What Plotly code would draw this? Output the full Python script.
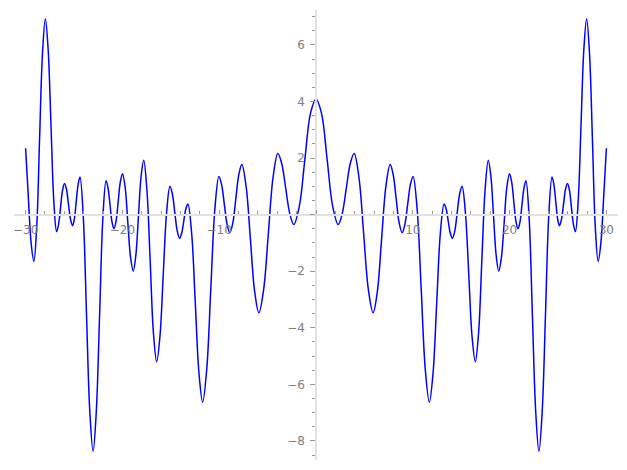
import plotly.graph_objects as go

# Curve samples (right half, x >= 0); the curve is mirror-symmetric about x = 0
x_right = [0.00, 0.57, 1.15, 1.72, 2.29, 2.70, 3.12, 3.53, 3.94, 4.43, 4.92, 5.41, 5.90,
           6.34, 6.78, 7.22, 7.66, 7.97, 8.28, 8.59, 8.90, 9.18, 9.47, 9.75, 10.03,
           10.45, 10.87, 11.29, 11.71, 12.09, 12.47, 12.85, 13.23, 13.45, 13.66, 13.88, 14.09,
           14.34, 14.59, 14.84, 15.09, 15.43, 15.78, 16.12, 16.46, 16.80, 17.13, 17.47, 17.80,
           18.07, 18.34, 18.61, 18.88, 19.16, 19.44, 19.71, 19.99, 20.21, 20.43, 20.65, 20.87,
           21.08, 21.28, 21.49, 21.69, 22.03, 22.36, 22.70, 23.03, 23.37, 23.71, 24.04, 24.38,
           24.57, 24.77, 24.96, 25.15, 25.36, 25.57, 25.77, 25.98, 26.19, 26.39, 26.60, 26.80,
           27.09, 27.38, 27.67, 27.96, 28.26, 28.56, 28.85, 29.15, 29.44, 29.73, 30.00]
y_right = [4.09, 3.58, 1.95, 0.30, -0.35, 0.02, 0.91, 1.79, 2.16, 1.34, -0.66, -2.65, -3.47,
           -2.71, -0.85, 1.00, 1.77, 1.42, 0.57, -0.29, -0.64, -0.35, 0.36, 1.06, 1.35,
           0.19, -2.64, -5.47, -6.63, -5.61, -3.13, -0.64, 0.38, 0.20, -0.23, -0.66, -0.84,
           -0.57, 0.08, 0.73, 1.00, 0.10, -2.10, -4.30, -5.20, -4.16, -1.64, 0.88, 1.92,
           1.35, -0.04, -1.43, -2.00, -1.50, -0.28, 0.95, 1.45, 1.17, 0.48, -0.22, -0.50,
           -0.25, 0.35, 0.95, 1.20, -0.20, -3.59, -6.97, -8.37, -6.95, -3.52, -0.09, 1.33,
           1.08, 0.47, -0.14, -0.39, -0.17, 0.36, 0.88, 1.10, 0.85, 0.25, -0.35, -0.60,
           0.50, 3.17, 5.83, 6.93, 5.68, 2.64, -0.41, -1.66, -0.97, 0.69, 2.35]

x_ticks = [-30, -20, -10, 0, 10, 20, 30]
x_tick_text = ["\u221230", "\u221220", "\u221210", "", "10", "20", "30"]
y_ticks = [-8, -6, -4, -2, 0, 2, 4, 6]
y_tick_text = ["\u22128", "\u22126", "\u22124", "\u22122", "", "2", "4", "6"]

x_full = [-v for v in reversed(x_right[1:])] + x_right
y_full = list(reversed(y_right[1:])) + y_right

x_range = [-31.2, 31.2]
y_range = [-8.676, 7.236]

fig = go.Figure()
fig.add_trace(go.Scatter(
    x=x_full, y=y_full, mode="lines",
    line=dict(color="#0000ff", width=1.5, shape="spline", smoothing=1.0),
    hoverinfo="skip", showlegend=False,
))

axis_font = dict(family="DejaVu Sans", size=12, color="#808080")

# page body has an 8px default margin, so the figure is sized to fit inside the window
fig.update_layout(
    width=611, height=454,
    margin=dict(l=5.5, r=0.8, t=2, b=2),
    paper_bgcolor="white", plot_bgcolor="white",
    showlegend=False,
    xaxis=dict(
        range=x_range, anchor="free", automargin=False,
        position=(0 - y_range[0]) / (y_range[1] - y_range[0]),
        showgrid=False, zeroline=False,
        showline=True, linecolor="#e2e2e2", linewidth=1.5,
        tickmode="array", tickvals=x_ticks, ticktext=x_tick_text,
        ticks="inside", ticklen=4, tickwidth=1, tickcolor="#999999",
        tickfont=axis_font, ticklabelstandoff=4,
        minor=dict(tickmode="linear", tick0=0, dtick=2, ticks="inside",
                   ticklen=3, tickwidth=1, tickcolor="#999999"),
    ),
    yaxis=dict(
        range=y_range, anchor="free", automargin=False,
        position=(0 - x_range[0]) / (x_range[1] - x_range[0]),
        showgrid=False, zeroline=False,
        showline=True, linecolor="#e2e2e2", linewidth=1.5,
        tickmode="array", tickvals=y_ticks, ticktext=y_tick_text,
        ticks="outside", ticklen=5, tickwidth=1, tickcolor="#999999",
        tickfont=axis_font, ticklabelstandoff=3,
        minor=dict(tickmode="linear", tick0=0, dtick=0.5, ticks="outside",
                   ticklen=3, tickwidth=1, tickcolor="#999999"),
    ),
)

fig.write_html("out.html")
